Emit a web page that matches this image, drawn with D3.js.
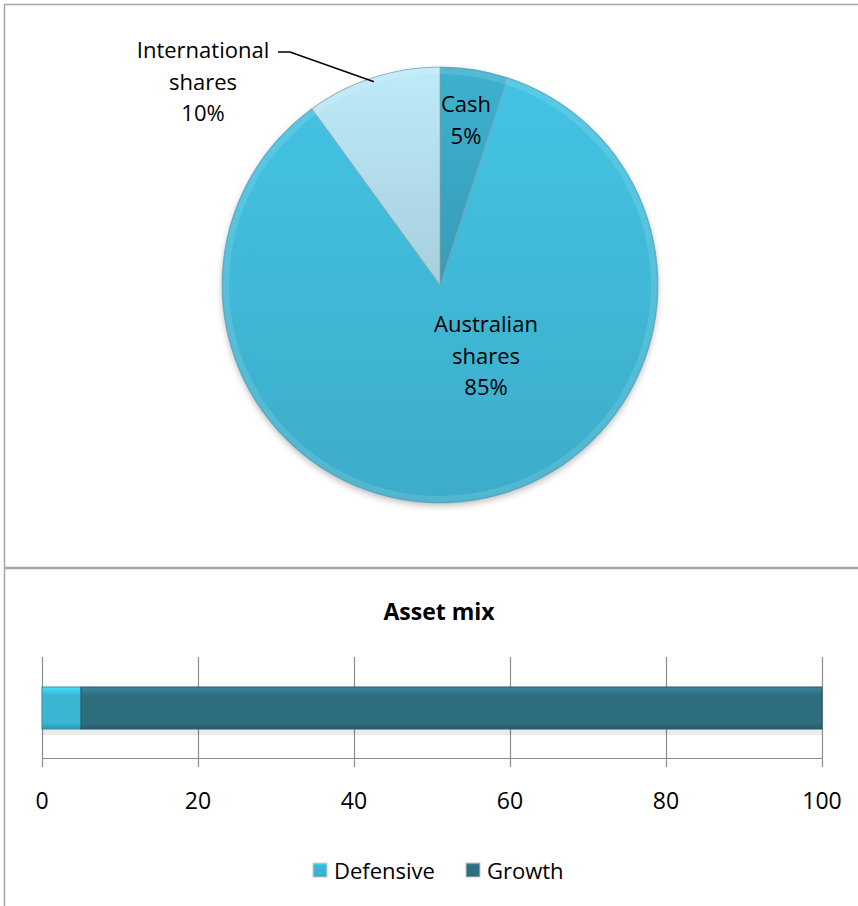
<!DOCTYPE html>
<html><head><meta charset="utf-8">
<script src="https://cdn.jsdelivr.net/npm/d3@7"></script>
<style>body{margin:0;background:#fff}svg{display:block;font-family:"Open Sans",sans-serif}</style>
</head><body>
<svg id="c" width="858" height="906"></svg>
<script>
const pieLabels = [["Cash","5%"],["Australian","shares","85%"],["International","shares","10%"]];
const pieNames = ["Cash","Australian shares","International shares"];
const pieValues = [5, 85, 10];
const pieColors = ["#3aa8c4","#40b9d8","#b3deec"];
const barSeries = ["Defensive","Growth"];
const barValues = [5, 95];
const barColors = ["#3ab5d2","#2f6e7f"];
const xTicks = [0,20,40,60,80,100];
const title = "Asset mix";

const svg = d3.select("#c");
const defs = svg.append("defs");
// panels
svg.append("rect").attr("x",4.5).attr("y",4.5).attr("width",860).attr("height",563).attr("fill","#fff").attr("stroke","#a6a6a6").attr("stroke-width",1.5);
svg.append("rect").attr("x",4.5).attr("y",568.5).attr("width",860).attr("height",345).attr("fill","#fff").attr("stroke","#a6a6a6").attr("stroke-width",1.5);

// gradients for pie
pieColors.forEach((c,i)=>{
  const g = defs.append("linearGradient").attr("id","pg"+i).attr("x1",0).attr("y1",0).attr("x2",0).attr("y2",1);
  g.append("stop").attr("offset","0").attr("stop-color",d3.color(c).brighter(0.15));
  g.append("stop").attr("offset","1").attr("stop-color",d3.color(c).darker(0.2));
});
const shadowF = defs.append("filter").attr("id","sh").attr("x","-10%").attr("y","-10%").attr("width","120%").attr("height","125%");
shadowF.append("feDropShadow").attr("dx",0).attr("dy",3).attr("stdDeviation",3).attr("flood-color","#000").attr("flood-opacity",0.25);

const cx = 440, cy = 285, R = 218;
const pie = d3.pie().sort(null).value(d=>d)(pieValues);
const arc = d3.arc().innerRadius(0).outerRadius(R);
const pg = svg.append("g").attr("transform",`translate(${cx},${cy})`);
pg.append("circle").attr("r",R).attr("fill","#40b9d8").attr("filter","url(#sh)");
pg.selectAll("path.s").data(pie).join("path").attr("class","s")
  .attr("d",arc).attr("fill",(d,i)=>`url(#pg${i})`)
  .attr("stroke","#8a9aa0").attr("stroke-width",1).attr("stroke-opacity",0.6);
pg.append("circle").attr("r",R-4).attr("fill","none").attr("stroke","#fff").attr("stroke-opacity",0.12).attr("stroke-width",6);

// labels
const lab = svg.append("g").attr("font-size",22).attr("fill","#000").attr("text-anchor","middle");
const labPos = [[466,112],[486,332],[203,58]];
pieLabels.forEach((lines,i)=>{
  const t = lab.append("text").attr("x",labPos[i][0]).attr("y",labPos[i][1]);
  lines.forEach((l,j)=>t.append("tspan").attr("x",labPos[i][0]).attr("dy",j?31.5:0).text(l));
});
// leader line for international
const midA = (pie[2].startAngle+pie[2].endAngle)/2;
const lx = cx + Math.sin(midA)*R*0.98, ly = cy - Math.cos(midA)*R*0.98;
svg.append("path").attr("d",`M278,52 L290,52 L${lx},${ly}`).attr("fill","none").attr("stroke","#000").attr("stroke-width",1.5);

// bar chart
const x = d3.scaleLinear().domain([0,100]).range([42,822]);
svg.append("text").attr("x",439).attr("y",620).attr("text-anchor","middle").attr("font-weight","bold").attr("font-size",23).text(title);
const gridG = svg.append("g");
gridG.selectAll("line").data(xTicks).join("line")
  .attr("x1",d=>x(d)+0.5).attr("x2",d=>x(d)+0.5).attr("y1",657).attr("y2",767)
  .attr("stroke","#8c8c8c").attr("stroke-width",1.2);
gridG.append("line").attr("x1",x(0)).attr("x2",x(100)).attr("y1",758.5).attr("y2",758.5).attr("stroke","#8c8c8c").attr("stroke-width",1.2);
svg.append("g").attr("font-size",23).attr("text-anchor","middle").selectAll("text").data(xTicks).join("text")
  .attr("x",d=>x(d)).attr("y",809).text(d=>d);

barColors.forEach((c,i)=>{
  const g = defs.append("linearGradient").attr("id","bg"+i).attr("x1",0).attr("y1",0).attr("x2",0).attr("y2",1);
  g.append("stop").attr("offset","0").attr("stop-color",d3.color(c).brighter(0.6));
  g.append("stop").attr("offset","0.2").attr("stop-color",c);
  g.append("stop").attr("offset","0.85").attr("stop-color",c);
  g.append("stop").attr("offset","1").attr("stop-color",d3.color(c).darker(0.5));
});
let acc = 0;
const stacks = barValues.map(v=>{const s={x0:acc,x1:acc+v}; acc+=v; return s;});
const bg = svg.append("g");
bg.append("rect").attr("x",x(0)).attr("y",729).attr("width",x(100)-x(0)).attr("height",6).attr("fill","#000").attr("opacity",0.08);
bg.selectAll("rect.b").data(stacks).join("rect").attr("class","b")
  .attr("x",d=>x(d.x0)).attr("width",d=>x(d.x1)-x(d.x0)).attr("y",687).attr("height",42)
  .attr("fill",(d,i)=>`url(#bg${i})`).attr("stroke",(d,i)=>d3.color(barColors[i]).darker(0.6)).attr("stroke-width",1);

// legend
const leg = svg.append("g").attr("font-size",22);
const legX = [313,466];
barSeries.forEach((s,i)=>{
  leg.append("rect").attr("x",legX[i]).attr("y",863).attr("width",14).attr("height",14).attr("fill",`url(#bg${i})`).attr("stroke","#ccc");
  leg.append("text").attr("x",legX[i]+21).attr("y",879).text(s);
});
</script>
</body></html>
